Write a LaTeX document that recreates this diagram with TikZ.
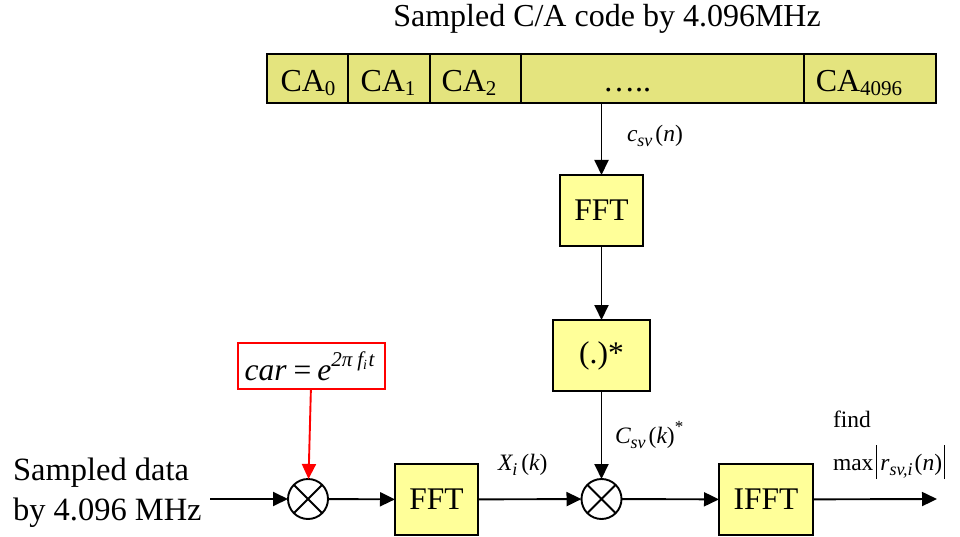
\documentclass[tikz,border=0pt]{standalone}
\usepackage{fontspec}
\setmainfont{Liberation Serif}
\usetikzlibrary{arrows.meta}

\definecolor{barfill}{RGB}{228,228,126}
\definecolor{boxfill}{RGB}{255,255,153}
\definecolor{carred}{RGB}{255,0,0}

% font size helper
\newcommand{\sz}[1]{\fontsize{#1}{#1}\selectfont}
% lowered italic subscript, small size
\newcommand{\lsub}[2]{\raisebox{-#1}{\sz{18}\itshape #2}}
% digit subscript for the code chips
\newcommand{\chipsub}[1]{\raisebox{-4pt}{\sz{21}#1}}

\begin{document}
\begin{tikzpicture}[x=1pt,y=-1pt,line width=1.9pt,
  every node/.style={inner sep=0pt,outer sep=0pt},
  arr/.style={-{Triangle[length=15pt,width=14pt]}},
  blk/.style={draw,fill=boxfill,font=\sz{31.5}},
  cell/.style={draw,fill=barfill,minimum height=49pt},
  txt/.style={font=\sz{32},anchor=base},
  lbl/.style={font=\sz{23.5},anchor=base west},
  mult/.style={circle,draw,fill=white,minimum size=40pt,
    path picture={\draw[line width=1.9pt]
      (path picture bounding box.north west) -- (path picture bounding box.south east)
      (path picture bounding box.north east) -- (path picture bounding box.south west);}}]

\useasboundingbox (0,0) rectangle (960,537);

% title
\node[txt] (title) at (607,27) {Sampled C/A code by 4.096MHz};

% sampled code chips
\node[cell,minimum width=81pt]  (ca0)    at (307.5,78.5) {};
\node[cell,minimum width=82pt]  (ca1)    at (389,78.5)   {};
\node[cell,minimum width=91pt]  (ca2)    at (475.5,78.5) {};
\node[cell,minimum width=283pt] (cadots) at (662.5,78.5) {};
\node[cell,minimum width=132pt] (ca4096) at (870,78.5)   {};
\node[txt] (t0)    at (308,92) {CA\chipsub{0}};
\node[txt] (t1)    at (388,92) {CA\chipsub{1}};
\node[txt] (t2)    at (469,92) {CA\chipsub{2}};
\node[txt] (tdots) at (627,92) {…..};
\node[txt] (t4096) at (859,92) {CA\chipsub{4096}};

% processing blocks
\node[blk,minimum width=83pt,minimum height=71pt] (fft1) at (601.5,210.5) {FFT};
\node[blk,minimum width=97pt,minimum height=71pt] (conj) at (601.5,355.5) {(.)*};
\node[blk,minimum width=83pt,minimum height=71pt] (fft2) at (436.5,499.5) {FFT};
\node[blk,minimum width=94pt,minimum height=71pt] (ifft) at (766,499.5)   {IFFT};

% multipliers
\node[mult] (m1) at (308,499) {};
\node[mult] (m2) at (601.5,499) {};

% carrier
\node[draw=carred,fill=white,minimum width=147pt,minimum height=46pt,font=\sz{31.5}] (car) at (311.5,366)
  {\hspace*{-4pt}\itshape car\hspace{7pt}\upshape{=}\hspace{6pt}\itshape e\raisebox{14pt}{\sz{21}2π\hspace{5pt}f\raisebox{-3pt}{\sz{14}i}\hspace{1.5pt}t}};

% input / output
\node[font=\sz{32.5},anchor=base west] (in1) at (13,480) {Sampled data};
\node[font=\sz{32.5},anchor=base west] (in2) at (13,520) {by 4.096 MHz};
\coordinate (src) at (210,499);
\coordinate (dst) at (937,499);

% signal labels
\node[lbl] (lc) at (627,142) {\itshape c\lsub{5pt}{sv}\hspace{3pt}\upshape(\itshape n\upshape)};
\node[lbl] (lC) at (615,443) {\itshape C\lsub{5pt}{sv}\hspace{3pt}\upshape(\itshape k\upshape)\raisebox{11pt}{\sz{17}*}};
\node[lbl] (lX) at (498,470) {\itshape X\lsub{5pt}{i}\hspace{4pt}\upshape(\itshape k\upshape)};
\node[lbl] (lf) at (833,427) {find};
\node[lbl] (lm) at (833,470) {max\hspace{3pt}\rule[-9pt]{0.9pt}{34pt}\hspace{3pt}\itshape r\lsub{5pt}{sv,i}\hspace{2pt}\upshape(\itshape n\upshape)\hspace{2pt}\rule[-9pt]{0.9pt}{34pt}};

% connectors
\draw[arr] (fft1.north |- cadots.south) -- (fft1.north);
\draw[arr] (fft1) -- (conj);
\draw[arr] (conj) -- (m2);
\draw[arr,draw=carred,fill=carred] (car) -- (m1);
\draw[arr] (src) -- (m1);
\draw[arr] (m1) -- (fft2);
\draw[arr] (fft2) -- (m2);
\draw[arr] (m2) -- (ifft);
\draw[arr] (ifft) -- (dst);
\end{tikzpicture}
\end{document}
